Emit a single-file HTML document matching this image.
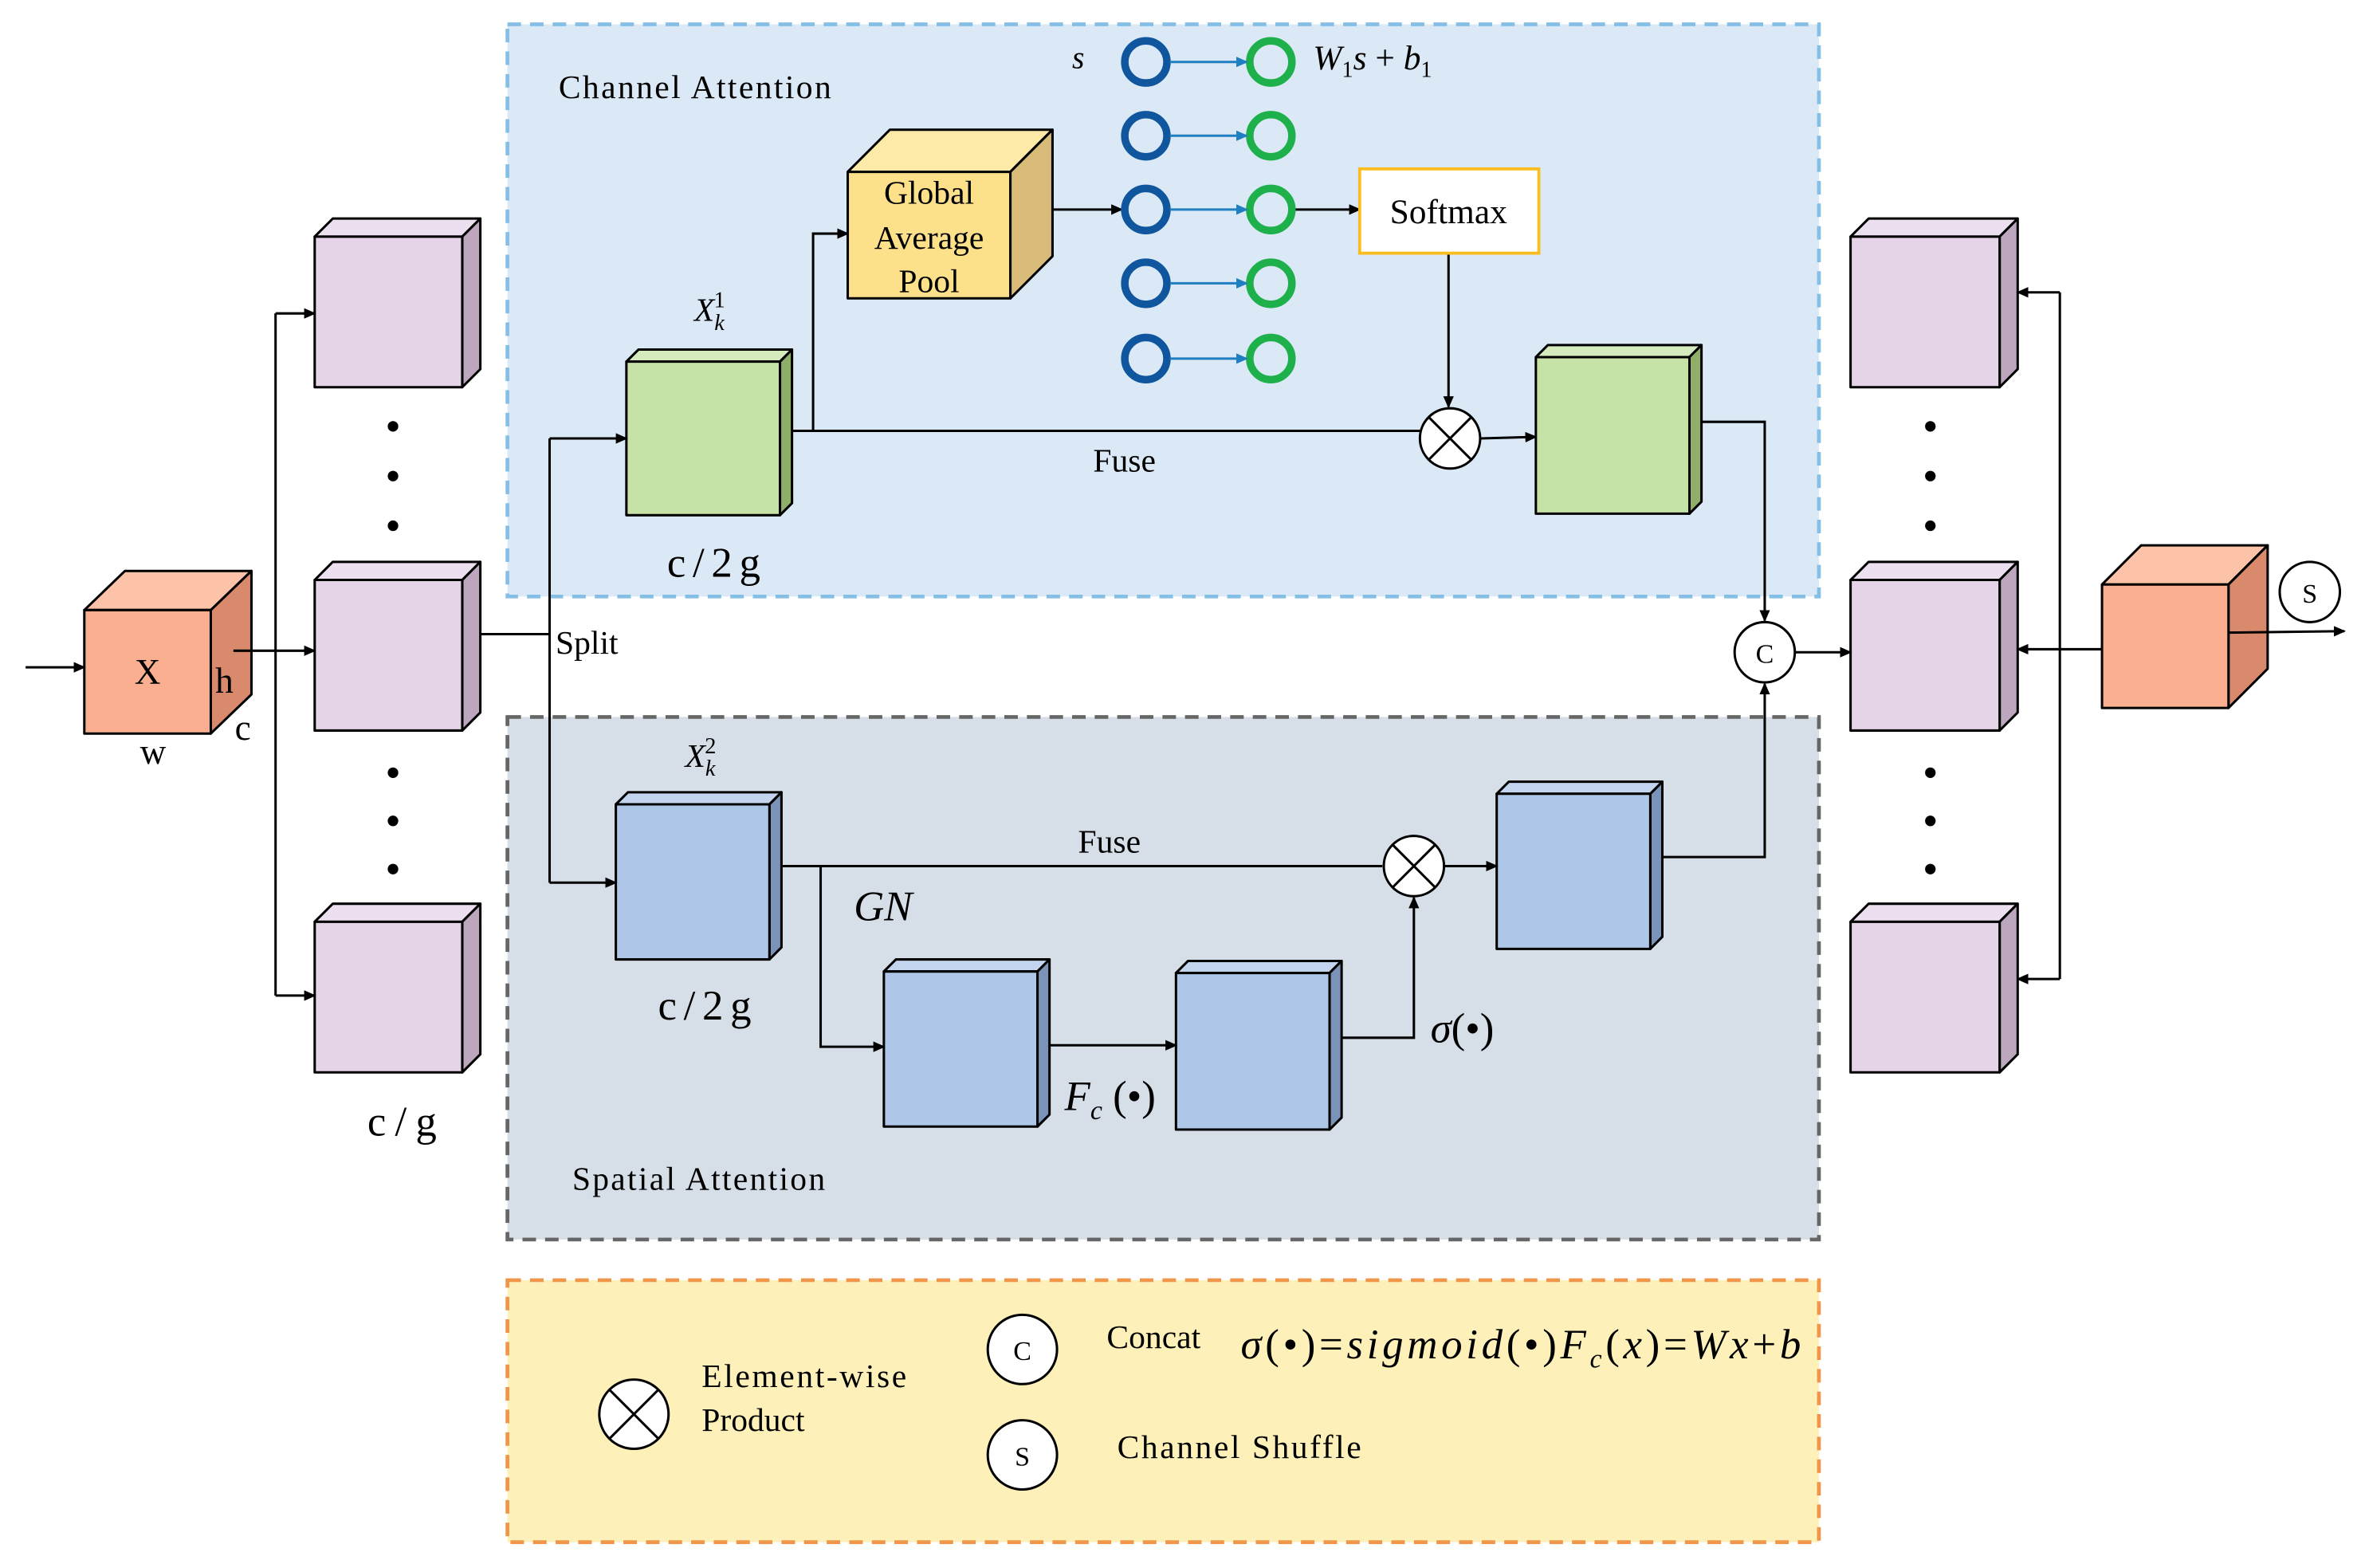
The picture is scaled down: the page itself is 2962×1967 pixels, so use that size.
<!DOCTYPE html>
<html><head><meta charset="utf-8"><style>html,body{margin:0;padding:0;background:#fff}svg{display:block}</style></head>
<body>
<svg width="2962" height="1967" viewBox="0 0 1568 1041" xmlns="http://www.w3.org/2000/svg" font-family="Liberation Serif, serif">
<defs>
<marker id="a" markerWidth="8" markerHeight="8" refX="7" refY="4" orient="auto" markerUnits="userSpaceOnUse"><path d="M0,0.5 L8,4 L0,7.5 Z" fill="#000"/></marker>
<marker id="b" markerWidth="8" markerHeight="8" refX="7" refY="4" orient="auto" markerUnits="userSpaceOnUse"><path d="M0,0.5 L8,4 L0,7.5 Z" fill="#1f7fc0"/></marker>
</defs>
<rect x="337" y="16" width="871" height="380" fill="#dbe9f6" stroke="#85bfe6" stroke-width="2.5" stroke-dasharray="9,6"/>
<rect x="337" y="476" width="871" height="347" fill="#d6dee7" stroke="#666" stroke-width="2.5" stroke-dasharray="9,6"/>
<rect x="337" y="850" width="871" height="174" fill="#fdf0b9" stroke="#f0964a" stroke-width="2.5" stroke-dasharray="9,6"/>
<g stroke="#000" stroke-width="1.6" stroke-linejoin="round">
<polygon points="56,405 83,379 167,379 140,405" fill="#fcc3a9"/><polygon points="140,405 167,379 167,461 140,487" fill="#d98a6d"/><rect x="56" y="405" width="84" height="82" fill="#fbaf91"/>
<polygon points="1396,388 1422,362 1506,362 1480,388" fill="#fcc3a9"/><polygon points="1480,388 1506,362 1506,444 1480,470" fill="#d98a6d"/><rect x="1396" y="388" width="84" height="82" fill="#fbaf91"/>
<g fill="#e5d3e7">
<polygon points="209,157 221,145 319,145 307,157" fill="#ecdff0"/><polygon points="307,157 319,145 319,245 307,257" fill="#bda7bf"/><rect x="209" y="157" width="98" height="100"/>
<polygon points="209,385 221,373 319,373 307,385" fill="#ecdff0"/><polygon points="307,385 319,373 319,473 307,485" fill="#bda7bf"/><rect x="209" y="385" width="98" height="100"/>
<polygon points="209,612 221,600 319,600 307,612" fill="#ecdff0"/><polygon points="307,612 319,600 319,700 307,712" fill="#bda7bf"/><rect x="209" y="612" width="98" height="100"/>
<polygon points="1229,157 1241,145 1340,145 1328,157" fill="#ecdff0"/><polygon points="1328,157 1340,145 1340,245 1328,257" fill="#bda7bf"/><rect x="1229" y="157" width="99" height="100"/>
<polygon points="1229,385 1241,373 1340,373 1328,385" fill="#ecdff0"/><polygon points="1328,385 1340,373 1340,473 1328,485" fill="#bda7bf"/><rect x="1229" y="385" width="99" height="100"/>
<polygon points="1229,612 1241,600 1340,600 1328,612" fill="#ecdff0"/><polygon points="1328,612 1340,600 1340,700 1328,712" fill="#bda7bf"/><rect x="1229" y="612" width="99" height="100"/>
</g>
<polygon points="563,114 591,86 699,86 671,114" fill="#fde9a8"/><polygon points="671,114 699,86 699,170 671,198" fill="#d8bb78"/><rect x="563" y="114" width="108" height="84" fill="#fde08a"/>
<polygon points="416,240 424,232 526,232 518,240" fill="#d6ebbd"/><polygon points="518,240 526,232 526,334 518,342" fill="#8fae6a"/><rect x="416" y="240" width="102" height="102" fill="#c7e2a7"/>
<polygon points="1020,237 1028,229 1130,229 1122,237" fill="#d6ebbd"/><polygon points="1122,237 1130,229 1130,333 1122,341" fill="#8fae6a"/><rect x="1020" y="237" width="102" height="104" fill="#c7e2a7"/>
<g>
<polygon points="409,534 417,526 519,526 511,534" fill="#c3d5ee"/><polygon points="511,534 519,526 519,629 511,637" fill="#7b93b8"/><rect x="409" y="534" width="102" height="103" fill="#aec7e8"/>
<polygon points="994,527 1002,519 1104,519 1096,527" fill="#c3d5ee"/><polygon points="1096,527 1104,519 1104,622 1096,630" fill="#7b93b8"/><rect x="994" y="527" width="102" height="103" fill="#aec7e8"/>
<polygon points="587,645 595,637 697,637 689,645" fill="#c3d5ee"/><polygon points="689,645 697,637 697,740 689,748" fill="#7b93b8"/><rect x="587" y="645" width="102" height="103" fill="#aec7e8"/>
<polygon points="781,646 789,638 891,638 883,646" fill="#c3d5ee"/><polygon points="883,646 891,638 891,742 883,750" fill="#7b93b8"/><rect x="781" y="646" width="102" height="104" fill="#aec7e8"/>
</g>
</g>
<g stroke="#000" stroke-width="1.6" fill="none">
<line x1="17" y1="443" x2="56" y2="443" marker-end="url(#a)"/>
<line x1="155" y1="432" x2="183" y2="432"/>
<line x1="183" y1="208" x2="183" y2="661"/>
<line x1="183" y1="208" x2="209" y2="208" marker-end="url(#a)"/>
<line x1="183" y1="432" x2="209" y2="432" marker-end="url(#a)"/>
<line x1="183" y1="661" x2="209" y2="661" marker-end="url(#a)"/>
<polyline points="319,421 365,421"/>
<line x1="365" y1="291" x2="365" y2="586"/>
<line x1="365" y1="291" x2="416" y2="291" marker-end="url(#a)"/>
<line x1="365" y1="586" x2="409" y2="586" marker-end="url(#a)"/>
<line x1="526" y1="286" x2="943" y2="286"/>
<polyline points="540,286 540,155 563,155" marker-end="url(#a)"/>
<line x1="699" y1="139" x2="745" y2="139" marker-end="url(#a)"/>
<line x1="860" y1="139" x2="903" y2="139" marker-end="url(#a)"/>
<line x1="962" y1="168" x2="962" y2="270" marker-end="url(#a)"/>
<line x1="983" y1="291" x2="1020" y2="290" marker-end="url(#a)"/>
<polyline points="1130,280 1172,280 1172,412" marker-end="url(#a)"/>
<line x1="519" y1="575" x2="918" y2="575"/>
<polyline points="545,575 545,695 587,695" marker-end="url(#a)"/>
<line x1="697" y1="694" x2="781" y2="694" marker-end="url(#a)"/>
<polyline points="891,689 939,689 939,596" marker-end="url(#a)"/>
<line x1="959" y1="575" x2="994" y2="575" marker-end="url(#a)"/>
<polyline points="1104,569 1172,569 1172,454" marker-end="url(#a)"/>
<line x1="1192" y1="433" x2="1229" y2="433" marker-end="url(#a)"/>
<line x1="1396" y1="431" x2="1340" y2="431" marker-end="url(#a)"/>
<line x1="1368" y1="194" x2="1368" y2="650"/>
<line x1="1368" y1="194" x2="1340" y2="194" marker-end="url(#a)"/>
<line x1="1368" y1="650" x2="1340" y2="650" marker-end="url(#a)"/>
<line x1="1480" y1="420" x2="1557" y2="419" marker-end="url(#a)"/>
</g>
<g stroke-width="5" fill="none">
<g stroke="#0f569e"><circle cx="761" cy="41" r="14"/><circle cx="761" cy="90" r="14"/><circle cx="761" cy="139" r="14"/><circle cx="761" cy="188" r="14"/><circle cx="761" cy="238" r="14"/></g>
<g stroke="#1db04b"><circle cx="844" cy="41" r="14"/><circle cx="844" cy="90" r="14"/><circle cx="844" cy="139" r="14"/><circle cx="844" cy="188" r="14"/><circle cx="844" cy="238" r="14"/></g>
</g>
<g stroke="#1f7fc0" stroke-width="1.6">
<line x1="777" y1="41" x2="828" y2="41" marker-end="url(#b)"/><line x1="777" y1="90" x2="828" y2="90" marker-end="url(#b)"/><line x1="777" y1="139" x2="828" y2="139" marker-end="url(#b)"/><line x1="777" y1="188" x2="828" y2="188" marker-end="url(#b)"/><line x1="777" y1="238" x2="828" y2="238" marker-end="url(#b)"/>
</g>
<rect x="903" y="112" width="119" height="56" fill="#fff" stroke="#fbbd1e" stroke-width="2"/>
<g stroke="#000" stroke-width="1.6" fill="#fff">
<circle cx="963" cy="291" r="20"/><line x1="949" y1="277" x2="977" y2="305"/><line x1="977" y1="277" x2="949" y2="305"/>
<circle cx="939" cy="575" r="20"/><line x1="925" y1="561" x2="953" y2="589"/><line x1="953" y1="561" x2="925" y2="589"/>
<circle cx="1172" cy="433" r="20"/>
<circle cx="1534" cy="393" r="20"/>
<circle cx="421" cy="939" r="23"/><line x1="405" y1="923" x2="437" y2="955"/><line x1="437" y1="923" x2="405" y2="955"/>
<circle cx="679" cy="896" r="23"/><circle cx="679" cy="966" r="23"/>
</g>
<g fill="#000"><circle cx="261" cy="283" r="3.5"/><circle cx="261" cy="316" r="3.5"/><circle cx="261" cy="349" r="3.5"/><circle cx="261" cy="513" r="3.5"/><circle cx="261" cy="545" r="3.5"/><circle cx="261" cy="577" r="3.5"/>
<circle cx="1282" cy="283" r="3.5"/><circle cx="1282" cy="316" r="3.5"/><circle cx="1282" cy="349" r="3.5"/><circle cx="1282" cy="513" r="3.5"/><circle cx="1282" cy="545" r="3.5"/><circle cx="1282" cy="577" r="3.5"/></g>
<g fill="#000" font-size="22">
<text x="371" y="65" textLength="181">Channel Attention</text>
<text x="380" y="790" textLength="168">Spatial Attention</text>
<text x="617" y="135" text-anchor="middle">Global</text><text x="617" y="165" text-anchor="middle">Average</text><text x="617" y="194" text-anchor="middle">Pool</text>
<text x="962" y="148" text-anchor="middle" font-size="23">Softmax</text>
<text x="726" y="313">Fuse</text><text x="716" y="566">Fuse</text>
<text x="369" y="434">Split</text>
<text x="98" y="454" text-anchor="middle" font-size="24">X</text>
<text x="143" y="460" font-size="24">h</text><text x="156" y="491" font-size="24">c</text><text x="93" y="507" font-size="24">w</text>
<text x="443" y="383" font-size="28" textLength="62">c/2g</text><text x="437" y="677" font-size="28" textLength="62">c/2g</text><text x="244" y="754" font-size="28" textLength="46">c/g</text>
<text x="567" y="611" font-size="28" font-style="italic">GN</text>
<text x="707" y="737" font-size="28" font-style="italic">F<tspan font-size="18" dy="6">c</tspan><tspan dy="-6" font-style="normal"> (•)</tspan></text>
<text x="950" y="692" font-size="28" font-style="italic">σ<tspan font-style="normal">(•)</tspan></text>
<text x="461" y="213" font-size="22" font-style="italic">X<tspan font-size="15" dy="6">k</tspan><tspan font-size="15" dy="-15" dx="-7" font-style="normal">1</tspan></text>
<text x="455" y="509" font-size="22" font-style="italic">X<tspan font-size="15" dy="6">k</tspan><tspan font-size="15" dy="-15" dx="-7" font-style="normal">2</tspan></text>
<text x="712" y="45" font-size="21" font-style="italic">s</text>
<text x="872" y="46" font-size="23" font-style="italic">W<tspan font-size="15" dy="5" font-style="normal">1</tspan><tspan dy="-5">s</tspan><tspan font-style="normal"> + </tspan>b<tspan font-size="15" dy="5" font-style="normal">1</tspan></text>
<text x="1172" y="440" text-anchor="middle" font-size="18">C</text>
<text x="1534" y="400" text-anchor="middle" font-size="18">S</text>
<text x="679" y="903" text-anchor="middle" font-size="18">C</text>
<text x="679" y="973" text-anchor="middle" font-size="18">S</text>
<text x="466" y="921" textLength="136">Element-wise</text><text x="466" y="950">Product</text>
<text x="735" y="895">Concat</text>
<text x="742" y="968" textLength="162">Channel Shuffle</text>
<text x="824" y="902" font-size="28" font-style="italic" textLength="372" lengthAdjust="spacing">σ<tspan font-style="normal">(•)=</tspan>sigmoid<tspan font-style="normal">(•)</tspan>F<tspan font-size="18" dy="6">c</tspan><tspan dy="-6" font-style="normal">(</tspan>x<tspan font-style="normal">)=</tspan>Wx<tspan font-style="normal">+</tspan>b</text>
</g>
</svg>
</body></html>
